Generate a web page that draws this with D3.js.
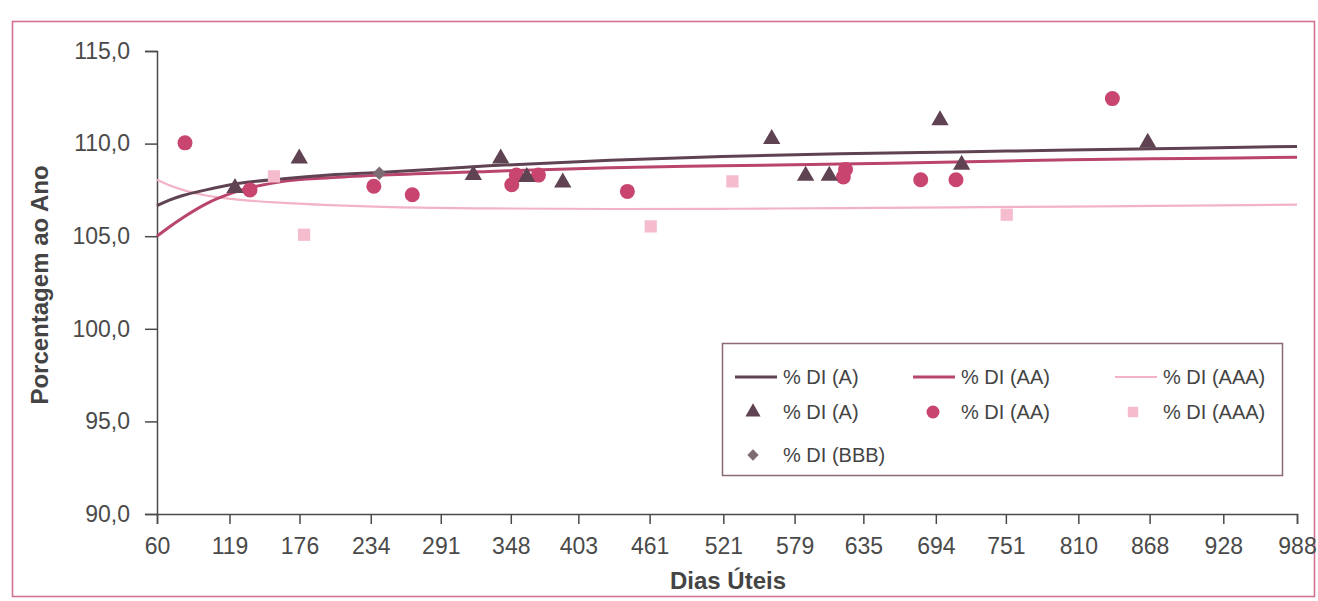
<!DOCTYPE html>
<html><head><meta charset="utf-8">
<script src="https://cdn.jsdelivr.net/npm/d3@7"></script>
<style>
html,body{margin:0;padding:0;background:#fff;}
text{font-family:"Liberation Sans",Arial,sans-serif;}
</style></head>
<body><svg id="c" width="1318" height="601"></svg>
<script>
// ---- data ----
const xTicks = [60,119,176,234,291,348,403,461,521,579,635,694,751,810,868,928,988];
const yTicks = [90,95,100,105,110,115];

// scatter: % DI (A) triangles
const ptsA_x = [123.5,175.8,317.5,339.8,361,390.3,560.4,588,607.3,697.4,715,866.5];
const ptsA_y = [107.6,109.2,108.3,109.2,108.2,107.9,110.25,108.27,108.27,111.26,108.86,110.04];
// % DI (AA) circles
const ptsAA_x = [82.8,135.7,236.5,267.8,348.8,352.5,370.5,442.9,618.7,620.5,681.7,710.4,837.7];
const ptsAA_y = [110.04,107.5,107.7,107.24,107.78,108.3,108.3,107.42,108.2,108.6,108.05,108.05,112.43];
// % DI (AAA) squares
const ptsAAA_x = [155.2,179.7,461.9,528.4,751.7];
const ptsAAA_y = [108.23,105.08,105.53,107.96,106.16];
// % DI (BBB) diamond
const ptsBBB_x = [241];
const ptsBBB_y = [108.4];

// trend lines
const trendA_x = [60,70,81,100,122,163,200,244,330,429,520,616,710,803,900,988];
const trendA_y = [106.65,106.95,107.2,107.5,107.8,108.1,108.3,108.45,108.8,109.1,109.3,109.45,109.55,109.65,109.75,109.85];
const trendAA_x = [60,70,81,100,122,163,200,244,330,429,520,616,710,803,900,988];
const trendAA_y = [105.0,105.5,106.0,106.75,107.35,107.96,108.15,108.3,108.5,108.7,108.8,108.9,109.0,109.13,109.2,109.26];
const trendAAA_x = [60,70,81,100,122,163,200,244,330,429,520,616,710,803,900,988];
const trendAAA_y = [108.05,107.75,107.5,107.2,107.0,106.8,106.68,106.58,106.5,106.47,106.48,106.52,106.56,106.6,106.65,106.7];

// ---- chart ----
const svg = d3.select("#c");
const L = 157, R = 1297, T = 51, B = 514;
const x = d3.scaleLinear().domain([60,988]).range([L,R]);
const y = d3.scaleLinear().domain([90,115]).range([B,T]);

const cA = "#5f4352", cAA = "#c8456f", cAAAline = "#f2b3c6", cAAA = "#f5bccd", cBBB = "#7d6b73";
const cAAline = "#b9446c";

// outer frame
svg.append("rect").attr("x",12.5).attr("y",21.5).attr("width",1302).attr("height",575)
  .attr("fill","none").attr("stroke","#d2728f").attr("stroke-width",1.6);

// axes
const fmt = d => d3.format(".1f")(d).replace(".", ",");
const gy = svg.append("g").attr("transform",`translate(${L},0)`)
  .call(d3.axisLeft(y).tickValues(yTicks).tickFormat(fmt).tickSizeOuter(0).tickSize(12).tickPadding(15));
const gx = svg.append("g").attr("transform",`translate(0,${B})`)
  .call(d3.axisBottom(x).tickValues(xTicks).tickFormat(d3.format("d")).tickSizeOuter(0).tickSize(10).tickPadding(14));
[gy,gx].forEach(g=>{
  g.selectAll("path,line").attr("stroke","#4a4a4a").attr("stroke-width",1.5);
  g.selectAll("text").attr("fill","#4a4a4a").style("font-size","23px");
});

// axis titles
svg.append("text").attr("x",728).attr("y",589).attr("text-anchor","middle")
  .style("font-size","24px").style("font-weight","bold").attr("fill","#444").text("Dias Úteis");
svg.append("text").attr("transform","translate(48,285) rotate(-90)").attr("text-anchor","middle")
  .style("font-size","24px").style("font-weight","bold").attr("fill","#444").text("Porcentagem ao Ano");

// trend lines
const line = d3.line().x(d=>x(d[0])).y(d=>y(d[1])).curve(d3.curveMonotoneX);
const zip = (a,b)=>a.map((v,i)=>[v,b[i]]);
svg.append("path").datum(zip(trendAAA_x,trendAAA_y)).attr("d",line)
  .attr("fill","none").attr("stroke",cAAAline).attr("stroke-width",2.2);
svg.append("path").datum(zip(trendAA_x,trendAA_y)).attr("d",line)
  .attr("fill","none").attr("stroke",cAAline).attr("stroke-width",3);
svg.append("path").datum(zip(trendA_x,trendA_y)).attr("d",line)
  .attr("fill","none").attr("stroke",cA).attr("stroke-width",3);

// markers
const sym = (type,size)=>d3.symbol().type(type).size(size)();
svg.append("g").selectAll("path").data(zip(ptsAAA_x,ptsAAA_y)).join("path")
  .attr("transform",d=>`translate(${x(d[0])},${y(d[1])})`).attr("d",sym(d3.symbolSquare,150)).attr("fill",cAAA);
svg.append("g").selectAll("circle").data(zip(ptsAA_x,ptsAA_y)).join("circle")
  .attr("cx",d=>x(d[0])).attr("cy",d=>y(d[1])).attr("r",7.5).attr("fill",cAA);
svg.append("g").selectAll("path").data(zip(ptsA_x,ptsA_y)).join("path")
  .attr("transform",d=>`translate(${x(d[0])},${y(d[1])})`).attr("d",sym(d3.symbolTriangle,130)).attr("fill",cA);
svg.append("g").selectAll("path").data(zip(ptsBBB_x,ptsBBB_y)).join("path")
  .attr("transform",d=>`translate(${x(d[0])},${y(d[1])}) rotate(45)`).attr("d",sym(d3.symbolSquare,90)).attr("fill",cBBB);

// legend
const lg = svg.append("g");
lg.append("rect").attr("x",722.5).attr("y",343.5).attr("width",560).attr("height",132)
  .attr("fill","#fff").attr("stroke","#8b6878").attr("stroke-width",1.5);
const legendItems = [
  {kind:"line", color:cA, w:3, label:"% DI (A)", cx:735, cy:377},
  {kind:"line", color:cAAline, w:3, label:"% DI (AA)", cx:913, cy:377},
  {kind:"line", color:cAAAline, w:2, label:"% DI (AAA)", cx:1115, cy:377},
  {kind:d3.symbolTriangle, color:cA, size:100, label:"% DI (A)", cx:735, cy:412},
  {kind:"circle", color:cAA, label:"% DI (AA)", cx:913, cy:412},
  {kind:d3.symbolSquare, color:cAAA, size:110, label:"% DI (AAA)", cx:1115, cy:412},
  {kind:"diamond", color:cBBB, size:64, label:"% DI (BBB)", cx:735, cy:455}
];
legendItems.forEach(it=>{
  if(it.kind==="line"){
    lg.append("line").attr("x1",it.cx).attr("x2",it.cx+42).attr("y1",it.cy).attr("y2",it.cy)
      .attr("stroke",it.color).attr("stroke-width",it.w);
  } else if(it.kind==="circle"){
    lg.append("circle").attr("cx",it.cx+20).attr("cy",it.cy).attr("r",6.5).attr("fill",it.color);
  } else if(it.kind==="diamond"){
    lg.append("path").attr("transform",`translate(${it.cx+18},${it.cy}) rotate(45)`)
      .attr("d",d3.symbol().type(d3.symbolSquare).size(it.size)()).attr("fill",it.color);
  } else {
    lg.append("path").attr("transform",`translate(${it.cx+18},${it.cy})`)
      .attr("d",d3.symbol().type(it.kind).size(it.size)()).attr("fill",it.color);
  }
  lg.append("text").attr("x",it.cx+48).attr("y",it.cy+7).style("font-size","20px").attr("fill","#444").text(it.label);
});
</script></body></html>
